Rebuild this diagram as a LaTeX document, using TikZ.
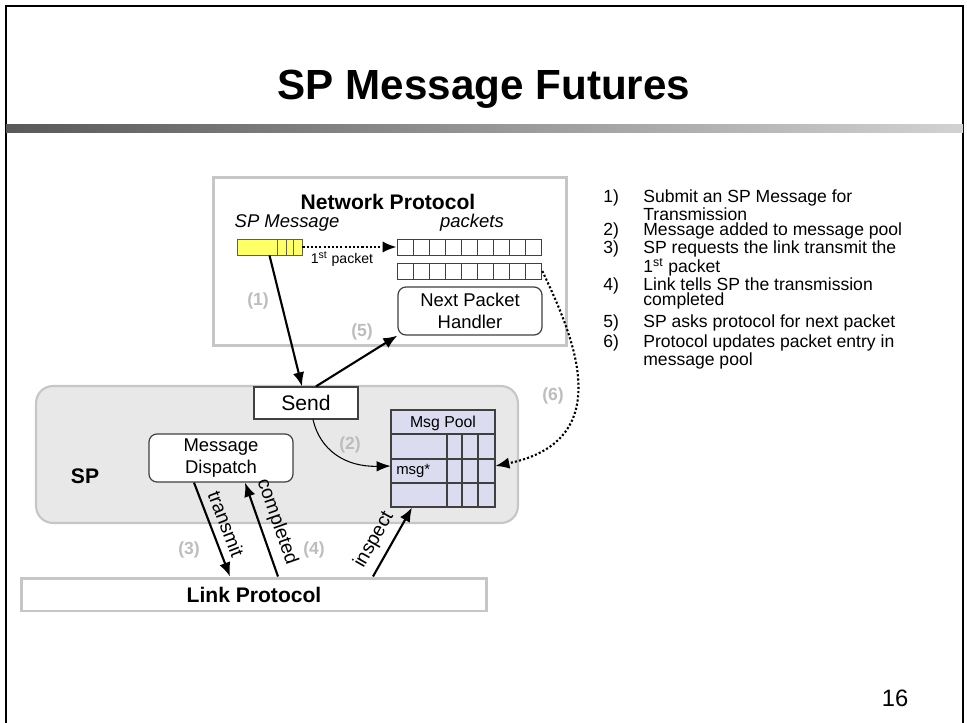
\documentclass[tikz,border=0pt]{standalone}
\usepackage{fontspec}
\setmainfont{Liberation Sans}
\usepackage{tikz}
\usetikzlibrary{shapes, arrows.meta, calc, positioning}
\definecolor{bardark}{HTML}{595959}
\definecolor{barlight}{HTML}{D2D2D2}
\definecolor{boxgray}{HTML}{C6C6C6}
\definecolor{spfill}{HTML}{E8E8E8}
\definecolor{poolfill}{HTML}{DCDCF0}
\definecolor{msgyellow}{HTML}{FFFF66}
\definecolor{numgray}{HTML}{BDBDBD}
\setlength{\lineskiplimit}{-10pt}
\tikzset{
    flow/.style={-{Latex[length=8pt,width=6.5pt]}, line width=1.2pt},
    dotflow/.style={flow, dash pattern=on 1.2pt off 1.2pt},
    thinflow/.style={-{Latex[length=8pt,width=6pt]}, line width=0.6pt},
    groupbox/.style={draw=boxgray, line width=1.7pt, fill=white, inner sep=0pt},
    spbox/.style={draw=boxgray, fill=spfill, line width=1.2pt, rounded corners=0.34cm},
    plainbox/.style={draw=black!75, fill=white, line width=0.7pt, inner sep=0pt},
    roundbox/.style={plainbox, rounded corners=0.16cm, align=center, font=\fontsize{10.5}{12.5}\selectfont},
    cell/.style={draw=black!75, line width=0.5pt, fill=white, minimum width=0.322cm, minimum height=0.32cm, inner sep=0pt},
    numlabel/.style={text=numgray, font=\bfseries\fontsize{10}{12}\selectfont},
    alabel/.style={font=\fontsize{11}{13}\selectfont, inner sep=1pt},
    listitem/.style={anchor=base west, inner sep=0pt, font=\fontsize{10}{9}\selectfont}
}

\begin{document}
\begin{tikzpicture}[x=0.02cm, y=-0.02cm]
  \useasboundingbox (0,0) rectangle (967,723);

  % slide frame and title
  \draw[line width=1.2pt] (6,740) -- (6,6) -- (963,6) -- (963,740);
  \shade[left color=bardark, right color=barlight] (6,125) rectangle (963,133);
  \node[font=\bfseries\fontsize{24}{28}\selectfont, anchor=base] (title) at (484,100) {SP Message Futures};
  \node[font=\fontsize{13.5}{16}\selectfont] (pagenum) at (895,698) {16};

  % network protocol
  \node[groupbox, minimum width=7.08cm, minimum height=3.38cm] (net) at (390,261.5) {};
  \node[font=\bfseries\fontsize{12}{14}\selectfont] (nettitle) at (388,202) {Network Protocol};
  \node[font=\itshape\fontsize{10.5}{12}\selectfont] (msglabel) at (287,223) {SP Message};
  \node[font=\itshape\fontsize{10.5}{12}\selectfont] (pktlabel) at (472,223) {packets};
  \node[cell, fill=msgyellow, draw=black!70!yellow, minimum width=1.3cm] (msgbar) at (269.5,247) {};
  \foreach \x in {277,286,293} \draw[line width=0.5pt, black!70!yellow] (\x,239) -- (\x,255);
  \foreach \i in {0,...,8} {
    \node[cell] (a\i) at (405.05+\i*16.1,247) {};
    \node[cell] (b\i) at (405.05+\i*16.1,271) {};
  }
  \node[roundbox, minimum width=2.88cm, minimum height=0.96cm] (handler) at (470,311) {Next Packet\\Handler};

  % SP
  \node[spbox, minimum width=9.64cm, minimum height=2.74cm] (sp) at (277,454.5) {};
  \node[font=\bfseries\fontsize{12}{14}\selectfont] (splabel) at (85,476) {SP};
  \node[plainbox, minimum width=2.08cm, minimum height=0.64cm, font=\fontsize{12}{14}\selectfont] (send) at (306,403) {Send};
  \node[roundbox, minimum width=2.88cm, minimum height=0.96cm] (dispatch) at (221,458) {Message\\Dispatch};
  \node[plainbox, fill=poolfill, minimum width=2.08cm, minimum height=1.94cm] (pool) at (443,458.5) {};
  \foreach \y in {434,459,483} \draw[line width=0.6pt, black!75] (391,\y) -- (495,\y);
  \foreach \x in {447,462,478} \draw[line width=0.6pt, black!75] (\x,434) -- (\x,507);
  \node[font=\fontsize{9}{10}\selectfont] (pooltitle) at (443,423) {Msg Pool};
  \node[minimum width=2.08cm, minimum height=0.48cm, inner sep=0pt] (msgrow) at (443,471) {};
  \node[anchor=west, font=\fontsize{8.5}{10}\selectfont, inner sep=3pt] (msgtxt) at (msgrow.west) {msg*};

  % link
  \node[groupbox, minimum width=9.32cm, minimum height=0.66cm, font=\bfseries\fontsize{12}{14}\selectfont] (link) at (254,594.5) {Link Protocol};

  % connectors
  \draw[flow] (msgbar.south) -- ([xshift=-0.08cm]send.north);
  \draw[flow] ([xshift=0.2cm]send.north) -- (handler.south west);
  \draw[dotflow] (msgbar.east) -- node[below=-1.5pt, pos=0.42, font=\fontsize{8}{9}\selectfont] {1\textsuperscript{st} packet} (a0.west);
  \draw[dotflow] (b8.east) .. controls (570,330) and (622,440) .. ([yshift=0.1cm]msgrow.east);
  \draw[thinflow] ([xshift=0.14cm]send.south) .. controls (320,450) and (345,467) .. ([yshift=0.1cm]msgrow.west);
  \draw[flow] ([xshift=-0.54cm]dispatch.south) -- node[sloped, above=3pt, pos=0.5, alabel] {transmit} ([xshift=-0.48cm]link.north);
  \draw[flow] ([xshift=0.48cm]link.north) -- node[sloped, above=3pt, pos=0.52, alabel] {completed} ([xshift=0.48cm]dispatch.south);
  \draw[flow] ([xshift=2.38cm]link.north) -- node[sloped, above=3pt, pos=0.41, alabel] {inspect} ([xshift=-0.62cm]pool.south);

  % step numbers
  \node[numlabel] (n1) at (258,301) {(1)};
  \node[numlabel] (n2) at (350,445) {(2)};
  \node[numlabel] (n3) at (189,550) {(3)};
  \node[numlabel] (n4) at (314,550) {(4)};
  \node[numlabel] (n5) at (362,332) {(5)};
  \node[numlabel] (n6) at (553,396) {(6)};

  % list
  \node[listitem] (li1) at (603,202) {\makebox[0.8cm][l]{1)}\parbox[t]{6.2cm}{Submit an SP Message for\\Transmission}};
  \node[listitem] (li2) at (603,235) {\makebox[0.8cm][l]{2)}\parbox[t]{6.2cm}{Message added to message pool}};
  \node[listitem] (li3) at (603,253) {\makebox[0.8cm][l]{3)}\parbox[t]{6.2cm}{SP requests the link transmit the\\1\textsuperscript{st} packet}};
  \node[listitem] (li4) at (603,290) {\makebox[0.8cm][l]{4)}\parbox[t]{6.2cm}{Link tells SP the transmission\\completed}};
  \node[listitem] (li5) at (603,327) {\makebox[0.8cm][l]{5)}\parbox[t]{6.2cm}{SP asks protocol for next packet}};
  \node[listitem] (li6) at (603,347) {\makebox[0.8cm][l]{6)}\parbox[t]{6.2cm}{Protocol updates packet entry in\\message pool}};
\end{tikzpicture}
\end{document}
